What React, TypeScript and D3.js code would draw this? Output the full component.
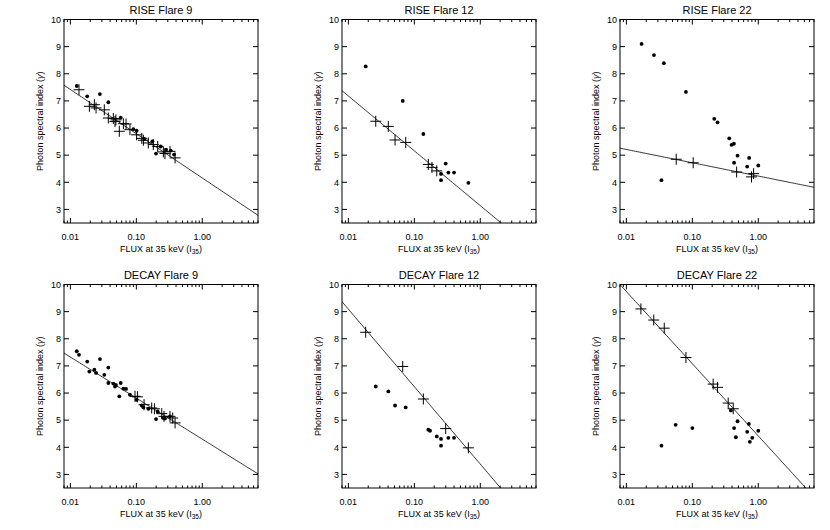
import React from "react";
import * as d3 from "d3";

// ---------- DATA ----------
const titles = ["RISE Flare 9", "RISE Flare 12", "RISE Flare 22", "DECAY Flare 9", "DECAY Flare 12", "DECAY Flare 22"];

// RISE Flare 9
const rise9DotX = [0.0125, 0.018, 0.028, 0.0376, 0.058, 0.09, 0.101, 0.132, 0.175, 0.199, 0.234, 0.283, 0.333, 0.373];
const rise9DotY = [7.55, 7.17, 7.25, 6.95, 6.38, 5.96, 5.9, 5.6, 5.51, 5.06, 5.32, 5.2, 5.17, 5.02];
const rise9CrossX = [0.0135, 0.0194, 0.0231, 0.0245, 0.0327, 0.0376, 0.0448, 0.0475, 0.049, 0.0552, 0.0636, 0.0698, 0.08, 0.101, 0.121, 0.128, 0.152, 0.181, 0.211, 0.257, 0.272, 0.324, 0.387];
const rise9CrossY = [7.41, 6.8, 6.86, 6.74, 6.67, 6.37, 6.35, 6.24, 6.3, 5.88, 6.16, 6.15, 5.94, 5.75, 5.62, 5.55, 5.45, 5.39, 5.32, 5.12, 5.06, 5.14, 4.9];
const rise9Fit = [4.16, -1.63]; // intercept, slope vs log10(flux)

// RISE Flare 12
const rise12DotX = [0.0183, 0.0667, 0.137, 0.299, 0.254, 0.254, 0.328, 0.4, 0.66];
const rise12DotY = [8.27, 7.0, 5.78, 4.69, 4.31, 4.08, 4.36, 4.36, 3.98];
const rise12CrossX = [0.026, 0.0403, 0.051, 0.074, 0.163, 0.185, 0.219];
const rise12CrossY = [6.25, 6.06, 5.56, 5.47, 4.66, 4.55, 4.42];
const rise12Fit = [3.14, -2.02];

// RISE Flare 22
const rise22DotX = [0.017, 0.0262, 0.037, 0.08, 0.034, 0.215, 0.241, 0.363, 0.394, 0.427, 0.485, 0.43, 0.727, 0.679, 1.0];
const rise22DotY = [9.1, 8.69, 8.39, 7.33, 4.08, 6.34, 6.21, 5.62, 5.38, 5.42, 4.98, 4.72, 4.9, 4.58, 4.62];
const rise22CrossX = [0.057, 0.103, 0.47, 0.79, 0.85];
const rise22CrossY = [4.85, 4.72, 4.38, 4.2, 4.32];
const rise22Fit = [4.23, -0.49];

// DECAY Flare 9
const decay9DotX = [0.0125, 0.0135, 0.018, 0.0194, 0.0231, 0.0245, 0.0281, 0.0327, 0.0376, 0.0376, 0.0448, 0.0475, 0.049, 0.0552, 0.058, 0.0636, 0.0698, 0.08, 0.101, 0.121, 0.128, 0.152, 0.199, 0.211, 0.257, 0.272, 0.324];
const decay9DotY = [7.54, 7.41, 7.16, 6.79, 6.86, 6.74, 7.25, 6.67, 6.94, 6.37, 6.35, 6.24, 6.3, 5.88, 6.37, 6.16, 6.15, 5.94, 5.75, 5.54, 5.47, 5.42, 5.04, 5.32, 5.08, 5.06, 5.14];
const decay9CrossX = [0.0955, 0.104, 0.131, 0.171, 0.188, 0.243, 0.263, 0.324, 0.356, 0.387];
const decay9CrossY = [5.88, 5.86, 5.57, 5.45, 5.42, 5.24, 5.14, 5.14, 5.08, 4.9];
const decay9Fit = [4.3, -1.513];

// DECAY Flare 12
const decay12DotX = [0.026, 0.0403, 0.051, 0.074, 0.163, 0.173, 0.219, 0.254, 0.254, 0.328, 0.4];
const decay12DotY = [6.24, 6.06, 5.54, 5.47, 4.65, 4.61, 4.4, 4.31, 4.06, 4.35, 4.35];
const decay12CrossX = [0.0183, 0.0667, 0.137, 0.299, 0.66];
const decay12CrossY = [8.24, 6.98, 5.78, 4.69, 3.98];
const decay12Fit = [3.38, -2.855];

// DECAY Flare 22
const decay22DotX = [0.034, 0.0558, 0.1, 0.385, 0.485, 0.43, 0.457, 0.72, 0.679, 0.745, 0.81, 1.0];
const decay22DotY = [4.06, 4.83, 4.71, 5.36, 4.96, 4.71, 4.37, 4.86, 4.57, 4.2, 4.35, 4.61];
const decay22CrossX = [0.0166, 0.026, 0.0375, 0.08, 0.207, 0.241, 0.35, 0.417];
const decay22CrossY = [9.1, 8.69, 8.39, 7.31, 6.33, 6.21, 5.63, 5.42];
const decay22Fit = [4.42, -2.66];

const xDomain = [0.008, 7];
const yDomain = [2.5, 10];
const xMajor = [0.01, 0.1, 1];
const xMajorLabels = ["0.01", "0.10", "1.00"];
const xMinor = [0.008, 0.009, 0.02, 0.03, 0.04, 0.05, 0.06, 0.07, 0.08, 0.09, 0.2, 0.3, 0.4, 0.5, 0.6, 0.7, 0.8, 0.9, 2, 3, 4, 5, 6, 7];
const yTicks = [3, 4, 5, 6, 7, 8, 9, 10];

const panels = [
  { dx: rise9DotX, dy: rise9DotY, cx: rise9CrossX, cy: rise9CrossY, fit: rise9Fit },
  { dx: rise12DotX, dy: rise12DotY, cx: rise12CrossX, cy: rise12CrossY, fit: rise12Fit },
  { dx: rise22DotX, dy: rise22DotY, cx: rise22CrossX, cy: rise22CrossY, fit: rise22Fit },
  { dx: decay9DotX, dy: decay9DotY, cx: decay9CrossX, cy: decay9CrossY, fit: decay9Fit },
  { dx: decay12DotX, dy: decay12DotY, cx: decay12CrossX, cy: decay12CrossY, fit: decay12Fit },
  { dx: decay22DotX, dy: decay22DotY, cx: decay22CrossX, cy: decay22CrossY, fit: decay22Fit },
];

// ---------- LAYOUT ----------
const W = 830, H = 530;
const lefts = [64, 342, 620];
const tops = [19.5, 284.5];
const PW = 194, PH = 203.5;
const FONT = "'Liberation Sans', Arial, Helvetica, sans-serif";

function Panel({ idx }: { idx: number }) {
  const p = panels[idx];
  const L = lefts[idx % 3];
  const T = tops[Math.floor(idx / 3)];
  const x = d3.scaleLog().domain(xDomain).range([L, L + PW]);
  const y = d3.scaleLinear().domain(yDomain).range([T + PH, T]);
  const fitFn = (v: number) => p.fit[0] + p.fit[1] * Math.log10(v);
  const fitPts = d3.range(0, 101).map((i) => {
    const lv = Math.log10(xDomain[0]) + (i / 100) * (Math.log10(xDomain[1]) - Math.log10(xDomain[0]));
    const v = Math.pow(10, lv);
    return [x(v), y(fitFn(v))] as [number, number];
  });
  const line = d3.line();
  const clipId = `clip${idx}`;
  const B = T + PH;
  const cs = 5.5;
  return (
    <g>
      <defs>
        <clipPath id={clipId}>
          <rect x={L} y={T} width={PW} height={PH} />
        </clipPath>
      </defs>
      <text x={L + PW / 2} y={T - 6} textAnchor="middle" fontSize={11} fontFamily={FONT}>{titles[idx]}</text>
      <rect x={L} y={T} width={PW} height={PH} fill="none" stroke="#000" strokeWidth={1} />
      {xMajor.map((v, i) => (
        <g key={"xm" + i}>
          <line x1={x(v)} x2={x(v)} y1={B} y2={B - 5} stroke="#000" />
          <line x1={x(v)} x2={x(v)} y1={T} y2={T + 5} stroke="#000" />
          <text x={x(v)} y={B + 17} textAnchor="middle" fontSize={9} fontFamily={FONT}>{xMajorLabels[i]}</text>
        </g>
      ))}
      {xMinor.map((v, i) => (
        <g key={"xn" + i}>
          <line x1={x(v)} x2={x(v)} y1={B} y2={B - 2.5} stroke="#000" />
          <line x1={x(v)} x2={x(v)} y1={T} y2={T + 2.5} stroke="#000" />
        </g>
      ))}
      {yTicks.map((v, i) => (
        <g key={"y" + i}>
          <line x1={L} x2={L + 5} y1={y(v)} y2={y(v)} stroke="#000" />
          <line x1={L + PW} x2={L + PW - 5} y1={y(v)} y2={y(v)} stroke="#000" />
          <text x={L - 3} y={y(v) + 3.2} textAnchor="end" fontSize={9} fontFamily={FONT}>{v}</text>
        </g>
      ))}
      <text x={L + PW / 2} y={B + 28.5} textAnchor="middle" fontSize={9} fontFamily={FONT}>
        FLUX at 35 keV (I<tspan fontSize={6.5} dy={2.5}>35</tspan><tspan dy={-2.5}>)</tspan>
      </text>
      <text transform={`translate(${L - 21.5},${T + PH / 2}) rotate(-90)`} textAnchor="middle" fontSize={9} fontFamily={FONT}>
        Photon spectral index (<tspan fontStyle="italic">γ</tspan>)
      </text>
      <g clipPath={`url(#${clipId})`}>
        <path d={line(fitPts) || ""} fill="none" stroke="#000" strokeWidth={0.8} />
      </g>
      {p.dx.map((v, i) => (
        <circle key={"d" + i} cx={x(v)} cy={y(p.dy[i])} r={1.9} fill="#000" />
      ))}
      {p.cx.map((v, i) => (
        <g key={"c" + i} stroke="#000" strokeWidth={1}>
          <line x1={x(v) - cs} x2={x(v) + cs} y1={y(p.cy[i])} y2={y(p.cy[i])} />
          <line x1={x(v)} x2={x(v)} y1={y(p.cy[i]) - cs} y2={y(p.cy[i]) + cs} />
        </g>
      ))}
    </g>
  );
}

export default function App() {
  return (
    <svg width={W} height={H} style={{ position: "absolute", left: 0, top: 0, background: "#fff" }}>
      <rect width={W} height={H} fill="#fff" />
      {panels.map((_, i) => (
        <Panel key={i} idx={i} />
      ))}
    </svg>
  );
}
